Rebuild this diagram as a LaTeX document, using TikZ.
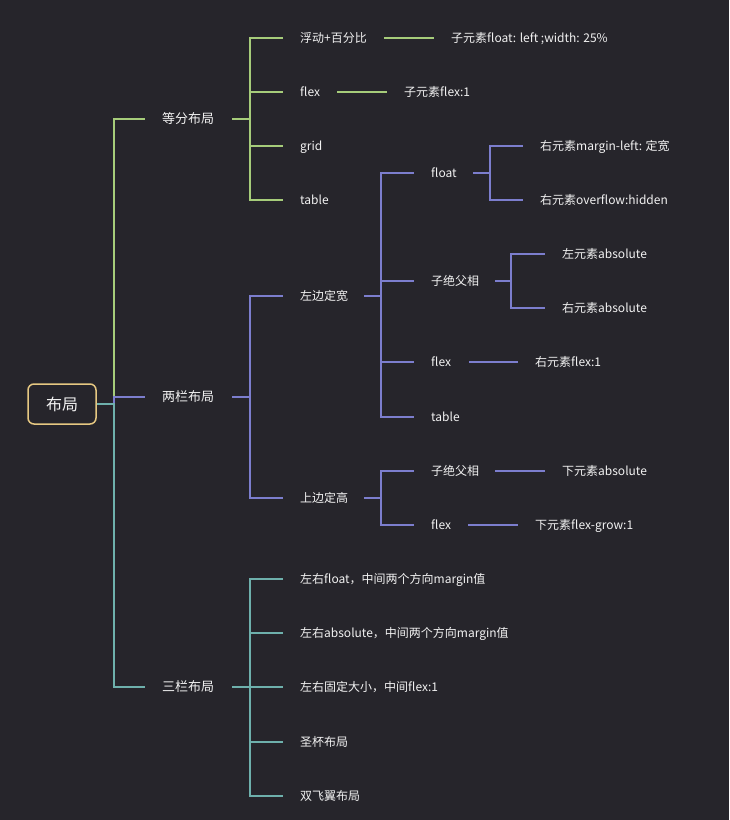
\documentclass[tikz,border=0pt]{standalone}
\usepackage{fontspec}
\setmainfont{Noto Sans CJK SC}
\definecolor{bg}{RGB}{38,37,43}
\definecolor{fg}{RGB}{242,242,242}
\definecolor{cg}{RGB}{166,204,122}
\definecolor{cp}{RGB}{124,126,206}
\definecolor{ct}{RGB}{110,176,172}
\definecolor{cr}{RGB}{230,200,130}
\begin{document}
\begin{tikzpicture}[x=1pt,y=1pt,
  txt/.style={anchor=west,inner sep=0pt,text=fg,font=\fontsize{12}{14}\selectfont,text height=10pt,text depth=1.5pt},
  lone/.style={txt,font=\fontsize{13}{15}\selectfont,text height=10.8pt,text depth=1.6pt},
  rootbox/.style={draw=cr,line width=1.5pt,rounded corners=6pt,minimum width=68pt,minimum height=40pt,inner sep=0pt,text=fg,font=\fontsize{16}{18}\selectfont},
  ln/.style={line width=1.6pt},
  stub/.style={line width=2.5pt}]
\fill[bg] (0,0) rectangle (729,-820);
\useasboundingbox (0,0) rectangle (729,-820);
% nodes
\node[rootbox] (root) at (62,-404) {布局};
\node[lone] (a) at (162,-119) {等分布局};
\node[lone] (b) at (162,-397) {两栏布局};
\node[lone] (c) at (162,-687) {三栏布局};
% green
\node[txt] (a1) at (300,-38) {浮动+百分比};
\node[txt] (a2) at (300,-92) {flex};
\node[txt] (a3) at (300,-146) {grid};
\node[txt] (a4) at (300,-200) {table};
\node[txt] (a11) at (451,-38) {子元素float: left ;width: 25\%};
\node[txt] (a21) at (404,-92) {子元素flex:1};
% purple
\node[txt] (b1) at (300,-296) {左边定宽};
\node[txt] (b2) at (300,-498) {上边定高};
\node[txt] (b11) at (431,-173) {float};
\node[txt] (b12) at (431,-281) {子绝父相};
\node[txt] (b13) at (431,-362) {flex};
\node[txt] (b14) at (431,-417) {table};
\node[txt] (b111) at (540,-146) {右元素margin-left: 定宽};
\node[txt] (b112) at (540,-200) {右元素overflow:hidden};
\node[txt] (b121) at (562,-254) {左元素absolute};
\node[txt] (b122) at (562,-308) {右元素absolute};
\node[txt] (b131) at (535,-362) {右元素flex:1};
\node[txt] (b21) at (431,-471) {子绝父相};
\node[txt] (b22) at (431,-525) {flex};
\node[txt] (b211) at (562,-471) {下元素absolute};
\node[txt] (b221) at (535,-525) {下元素flex-grow:1};
% teal
\node[txt] (c1) at (300,-579) {左右float，中间两个方向margin值};
\node[txt] (c2) at (300,-633) {左右absolute，中间两个方向margin值};
\node[txt] (c3) at (300,-687) {左右固定大小，中间flex:1};
\node[txt] (c4) at (300,-742) {圣杯布局};
\node[txt] (c5) at (300,-796) {双飞翼布局};
% root connectors
\draw[ln,cg] (root.east) -- ++(17,0) |- ([xshift=-17pt]a.west);
\draw[ln,cp] (root.east) -- ++(17,0) |- ([xshift=-17pt]b.west);
\draw[ln,ct] (root.east) -- ++(17,0) |- ([xshift=-17pt]c.west);
% green connectors
\draw[stub,cg] ([xshift=70pt]a.west) -- ++(18,0);
\foreach \n in {a1,a2,a3,a4}
  \draw[ln,cg] ([xshift=88pt]a.west) |- ([xshift=-17pt]\n.west);
\draw[ln,cg] ([xshift=84pt]a1.west) -- ([xshift=-17pt]a11.west);
\draw[ln,cg] ([xshift=37pt]a2.west) -- ([xshift=-17pt]a21.west);
% purple connectors
\draw[stub,cp] ([xshift=70pt]b.west) -- ++(18,0);
\foreach \n in {b1,b2}
  \draw[ln,cp] ([xshift=88pt]b.west) |- ([xshift=-17pt]\n.west);
\draw[stub,cp] ([xshift=64pt]b1.west) -- ++(17,0);
\foreach \n in {b11,b12,b13,b14}
  \draw[ln,cp] ([xshift=81pt]b1.west) |- ([xshift=-17pt]\n.west);
\draw[stub,cp] ([xshift=42pt]b11.west) -- ++(17,0);
\foreach \n in {b111,b112}
  \draw[ln,cp] ([xshift=59pt]b11.west) |- ([xshift=-17pt]\n.west);
\draw[stub,cp] ([xshift=64pt]b12.west) -- ++(16,0);
\foreach \n in {b121,b122}
  \draw[ln,cp] ([xshift=80pt]b12.west) |- ([xshift=-17pt]\n.west);
\draw[ln,cp] ([xshift=38pt]b13.west) -- ([xshift=-17pt]b131.west);
\draw[stub,cp] ([xshift=64pt]b2.west) -- ++(17,0);
\foreach \n in {b21,b22}
  \draw[ln,cp] ([xshift=81pt]b2.west) |- ([xshift=-17pt]\n.west);
\draw[ln,cp] ([xshift=64pt]b21.west) -- ([xshift=-17pt]b211.west);
\draw[ln,cp] ([xshift=37pt]b22.west) -- ([xshift=-17pt]b221.west);
% teal connectors
\draw[stub,ct] ([xshift=70pt]c.west) -- ++(18,0);
\foreach \n in {c1,c2,c3,c4,c5}
  \draw[ln,ct] ([xshift=88pt]c.west) |- ([xshift=-17pt]\n.west);
\end{tikzpicture}
\end{document}
